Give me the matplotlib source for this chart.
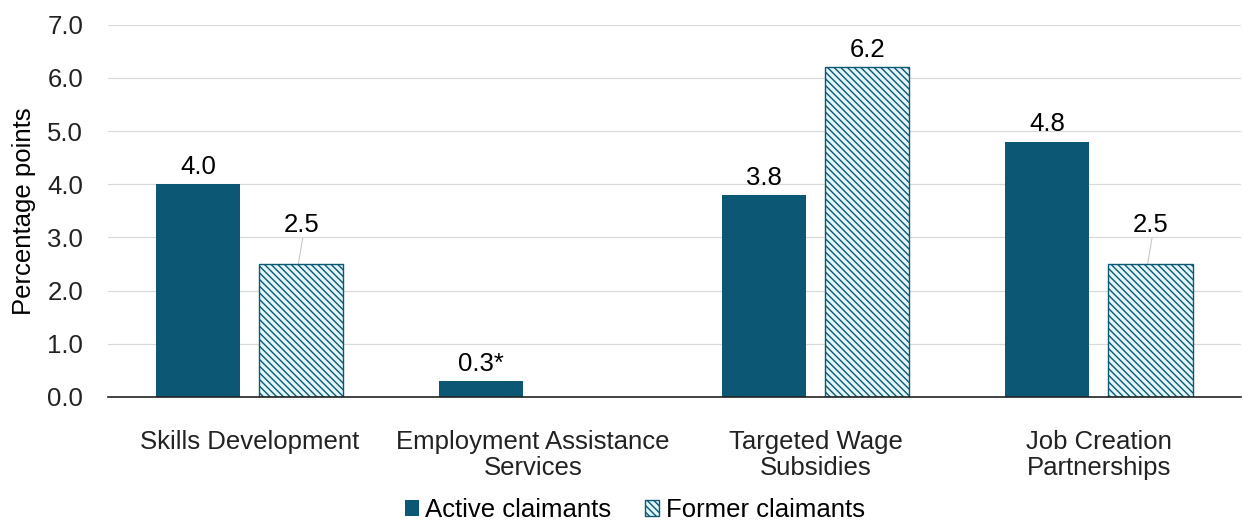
import matplotlib.pyplot as plt
import numpy as np

plt.rcParams['font.family'] = ['Liberation Sans', 'DejaVu Sans']
plt.rcParams['hatch.linewidth'] = 1.0
plt.rcParams['hatch.color'] = "#0b5774"

categories = ["Skills Development", "Employment Assistance\nServices",
              "Targeted Wage\nSubsidies", "Job Creation\nPartnerships"]
active = [4.0, 0.3, 3.8, 4.8]
former = [2.5, None, 6.2, 2.5]
active_labels = ["4.0", "0.3*", "3.8", "4.8"]
former_labels = ["2.5", "", "6.2", "2.5"]

dark = "#0b5774"
light = "#e2f5f9"
fs = 18.5

fig = plt.figure(figsize=(12.43, 5.27), dpi=100)
ax = fig.add_axes([0.087, 0.247, 0.911, 0.706])

x = np.arange(len(categories))
w = 0.297
off = 0.182

ax.bar(x - off, active, w, color=dark, label="Active claimants", zorder=3)
fx = [xi + off for xi, v in zip(x, former) if v is not None]
fv = [v for v in former if v is not None]
ax.bar(fx, fv, w, color=light, edgecolor=dark, hatch="\\" * 5,
       linewidth=1.0, label="Former claimants", zorder=3)

for xi, v, t in zip(x, active, active_labels):
    ax.text(xi - off, v + 0.1, t, ha="center", va="bottom", fontsize=fs)
for xi, v, t in zip(x, former, former_labels):
    if v is None:
        continue
    if v < 3:
        ty = v + 0.5
        ax.plot([xi + off - 0.01, xi + off + 0.005], [v, ty - 0.02],
                color="#c8c8c8", lw=0.8, zorder=2)
    else:
        ty = v + 0.1
    ax.text(xi + off, ty, t, ha="center", va="bottom", fontsize=fs)

ax.set_xlim(-0.5, 3.5)
ax.set_ylim(0, 7)
ax.set_yticks(np.arange(0, 7.1, 1.0))
ax.set_yticklabels([f"{v:.1f}" for v in np.arange(0, 7.1, 1.0)], fontsize=fs)
ax.set_xticks(x)
ax.set_xticklabels(categories, fontsize=fs, linespacing=1.08)
ax.tick_params(axis="both", length=0, colors="#222222")
ax.tick_params(axis="x", pad=24)
ax.tick_params(axis="y", pad=18)
ax.grid(axis="y", color="#d9d9d9", lw=0.9, zorder=0)
for s in ["top", "right", "left"]:
    ax.spines[s].set_visible(False)
ax.spines["bottom"].set_color("#222222")
ax.spines["bottom"].set_linewidth(1.2)
ax.spines["bottom"].set_zorder(4)
ax.set_ylabel("Percentage points", fontsize=fs, labelpad=8)

ax.legend(loc="center", bbox_to_anchor=(0.465, -0.305), ncol=2, frameon=False,
          fontsize=fs, handlelength=0.55, handleheight=0.55, handletextpad=0.25,
          columnspacing=1.3, borderpad=0)

fig.savefig("out.png", dpi=100)
